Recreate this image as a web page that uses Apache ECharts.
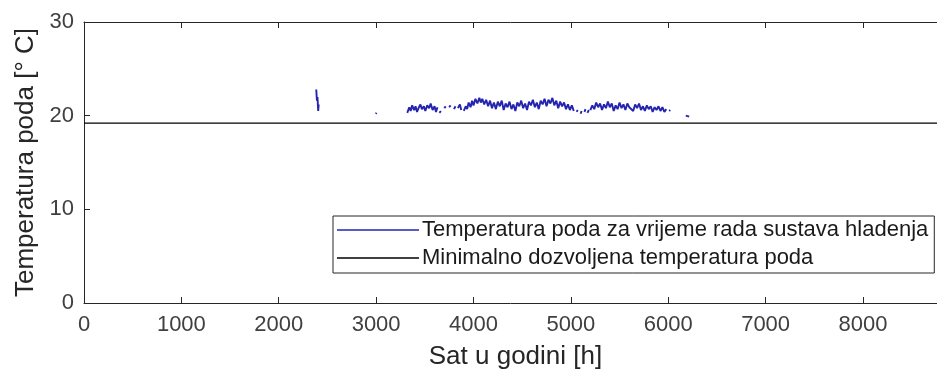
<!DOCTYPE html>
<html>
<head>
<meta charset="utf-8">
<script src="https://cdn.jsdelivr.net/npm/echarts@6/dist/echarts.min.js"></script>
<style>
html,body{margin:0;padding:0;background:#fff;}
#c{width:937px;height:379px;}
</style>
</head>
<body>
<div id="c"></div>
<script>
// Categories / axes
var xTicks = [0,1000,2000,3000,4000,5000,6000,7000,8000];
var yTicks = [0,10,20,30];
var xMax = 8760;
var minTemp = 19.2;

// Floor temperature during cooling operation: [hour, temperature], null = gap
var coolingHours = [
 2385,2392,2398,2405,2410,null,
 2995,3005,null,
 3320,3340,3355,3370,3390,3405,3420,3440,3455,3470,3490,3505,3525,3545,3560,3580,3600,3615,3630,null,
 3650,3665,null,
 3700,3715,null,3750,3765,null,3800,3815,null,3840,3860,3875,null,
 3900,3920,3935,3950,3970,3985,4000,4020,4040,4060,4075,4090,4110,4130,4150,4170,4190,4210,4230,4250,4270,4290,4310,4330,4350,4370,4390,4410,4430,4450,4470,4490,4510,4530,4550,4570,4590,4610,4630,4650,4670,4690,4710,4730,4750,4770,4790,4810,4830,4850,4870,4890,4910,4930,4950,4970,4990,5010,5030,null,
 5060,5070,null,5100,5110,null,5140,5150,null,5170,5185,null,
 5200,5220,5240,5260,5280,5300,5320,5340,5360,5380,5400,5420,5440,5460,5480,5500,5520,5540,5560,5580,5600,5620,5640,5660,5680,5700,5720,5740,5760,5780,5800,5820,5840,5860,5880,5900,5920,5940,5960,5980,null,
 6010,6020,null,
 6180,6200,6215,null
];
var coolingTemps = [
 22.8,21.6,22.0,20.5,21.2,null,
 20.2,20.3,null,
 20.3,20.9,20.5,21.1,20.6,21.0,20.4,20.9,21.2,20.7,21.0,20.5,21.1,20.8,21.3,20.6,21.0,20.4,20.9,null,
 20.3,20.5,null,
 20.8,21.0,null,20.9,21.1,null,20.7,21.0,null,20.8,21.2,20.6,null,
 20.5,21.0,20.7,21.4,20.9,21.6,21.1,21.8,21.3,21.9,21.4,21.8,21.2,21.7,21.0,21.6,20.8,21.4,20.7,21.5,21.0,21.6,20.6,21.3,20.9,21.5,20.7,21.2,20.5,21.4,21.0,21.6,20.8,21.3,20.6,21.5,21.1,21.7,20.9,21.4,20.7,21.6,21.2,21.8,21.0,21.7,21.3,21.9,21.1,21.6,20.8,21.5,21.0,21.4,20.7,21.2,20.6,21.1,20.5,null,
 20.4,20.6,null,20.2,20.5,null,20.4,20.7,null,20.3,20.6,null,
 20.6,21.1,20.7,21.4,20.9,21.3,20.6,21.2,20.8,21.5,20.9,21.3,20.5,21.1,20.7,21.4,20.8,21.2,20.6,21.3,20.9,21.1,20.5,21.2,20.8,21.3,20.6,21.0,20.5,21.1,20.7,21.0,20.4,20.9,20.6,21.0,20.5,20.9,20.4,20.7,null,
 20.5,20.6,null,
 20.0,20.2,19.9,null
];
var minHours = [0, xMax];
var minTemps = [minTemp, minTemp];

var seriesNames = ['Temperatura poda za vrijeme rada sustava hladenja', 'Minimalno dozvoljena temperatura poda'];

function pairs(xs, ys){
  var out = [];
  for (var i = 0; i < xs.length; i++) {
    out.push(xs[i] === null ? [null, null] : [xs[i], ys[i]]);
  }
  return out;
}

var FONT = 'Liberation Sans, Arial, sans-serif';
var axisCol = '#262626';
var labCol = '#404040';

var chart = echarts.init(document.getElementById('c'), null, {renderer:'canvas'});
chart.setOption({
  animation: false,
  backgroundColor: '#fff',
  grid: {left: 84, top: 22, bottom: 76, right: -15, containLabel: false},
  legend: {
    left: 333, top: 216,
    orient: 'vertical',
    data: seriesNames.map(function(n){return {name:n, icon:'rect'};}),
    itemWidth: 82, itemHeight: 1.5, itemGap: 6,
    padding: [3, 6, 4, 4],
    borderColor: '#262626', borderWidth: 1,
    backgroundColor: '#fff',
    textStyle: {fontFamily: FONT, fontSize: 22, color: '#1a1a1a', padding:[0,0,0,-2]}
  },
  xAxis: [{
    type: 'value', min: 0, max: xMax, interval: 1000,
    name: 'Sat u godini [h]', nameLocation: 'middle', nameGap: 41,
    nameTextStyle: {fontFamily: FONT, fontSize: 26, color: '#262626', padding: [0, 0, 0, 10]},
    axisLine: {show: true, onZero: false, lineStyle: {color: axisCol, width: 1}},
    axisTick: {show: true, inside: true, length: 6, lineStyle: {color: axisCol}},
    axisLabel: {fontFamily: FONT, fontSize: 22, color: labCol, margin: 11, showMaxLabel: false,
      formatter: function(v){ return String(v); }},
    splitLine: {show: false}
  },{
    type: 'value', min: 0, max: xMax, interval: 1000, position: 'top',
    axisLine: {show: true, onZero: false, lineStyle: {color: axisCol, width: 1}},
    axisTick: {show: true, inside: true, length: 6, lineStyle: {color: axisCol}},
    axisLabel: {show: false},
    splitLine: {show: false}
  }],
  yAxis: [{
    type: 'value', min: 0, max: 30, interval: 10,
    name: 'Temperatura poda [° C]', nameLocation: 'middle', nameGap: 41,
    nameTextStyle: {fontFamily: FONT, fontSize: 26, color: '#262626'},
    axisLine: {show: true, onZero: false, lineStyle: {color: axisCol, width: 1}},
    axisTick: {show: true, inside: true, length: 6, lineStyle: {color: axisCol}},
    axisLabel: {fontFamily: FONT, fontSize: 22, color: labCol, margin: 10,
      formatter: function(v){ return String(v); }},
    splitLine: {show: false}
  }],
  series: [{
    name: seriesNames[0], type: 'line', xAxisIndex: 0,
    data: pairs(coolingHours, coolingTemps),
    showSymbol: false, connectNulls: false,
    lineStyle: {color: '#2424b0', width: 1.9},
    itemStyle: {color: '#2424b0'}
  },{
    name: seriesNames[1], type: 'line', xAxisIndex: 0,
    data: pairs(minHours, minTemps),
    showSymbol: false,
    lineStyle: {color: '#000', width: 1.2},
    itemStyle: {color: '#000'}
  }]
});
</script>
</body>
</html>
